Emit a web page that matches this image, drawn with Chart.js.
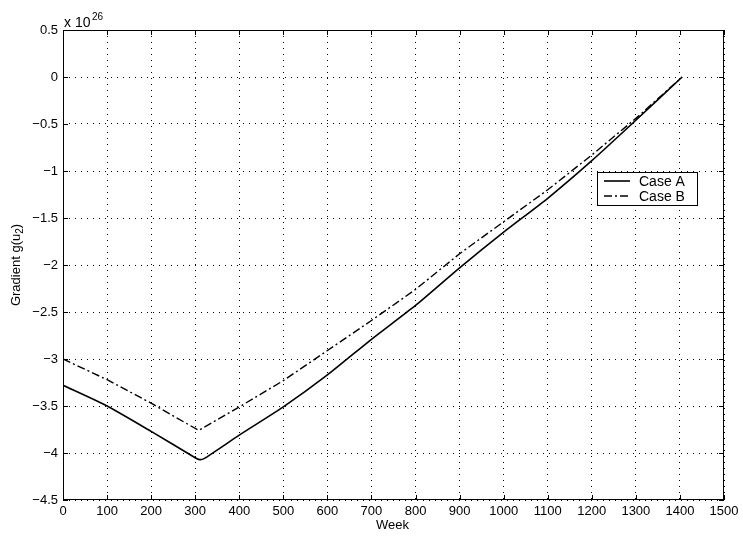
<!DOCTYPE html>
<html>
<head>
<meta charset="utf-8">
<script src="https://cdn.jsdelivr.net/npm/chart.js@4/dist/chart.umd.min.js"></script>
<style>
  html, body { margin: 0; padding: 0; background: #fff; }
  #wrap { width: 743px; height: 536px; }
</style>
</head>
<body>
<div id="wrap"><canvas id="chart" width="743" height="536"></canvas></div>
<script>
// values (y in units of 1e26)
const weeksA = [0, 100, 200, 300, 310, 320, 400, 500, 600, 700, 800, 900, 1000, 1100, 1200, 1300, 1405];
const caseA = [-3.28, -3.50, -3.77, -4.05, -4.07, -4.06, -3.81, -3.51, -3.17, -2.79, -2.43, -2.03, -1.65, -1.29, -0.89, -0.46, 0];
const weeksB = [0, 100, 200, 308, 400, 500, 600, 700, 800, 900, 1000, 1100, 1200, 1300, 1405];
const caseB = [-3.0, -3.22, -3.47, -3.76, -3.51, -3.23, -2.91, -2.59, -2.26, -1.88, -1.54, -1.20, -0.83, -0.44, 0];
const seriesNames = ['Case A', 'Case B'];

const FONT = '"Liberation Sans", Arial, Helvetica, sans-serif';
const dashB = [8, 3, 2, 3];
const gridDash = [1, 5];

const toPoints = (xs, ys) => xs.map((x, i) => ({ x: x, y: ys[i] }));

// box, inward ticks, axis titles, exponent and legend in MATLAB style
const matlabFrame = {
  id: 'matlabFrame',
  afterDraw(chart) {
    const ctx = chart.ctx;
    const { left, right, top, bottom } = chart.chartArea;
    const xs = chart.scales.x, ys = chart.scales.y;
    ctx.save();
    ctx.strokeStyle = '#000';
    ctx.lineWidth = 1;
    ctx.setLineDash([]);
    ctx.strokeRect(left + 0.5, top + 0.5, right - left - 1, bottom - top - 1);
    ctx.beginPath();
    xs.ticks.forEach(t => {
      const px = Math.round(xs.getPixelForValue(t.value)) + 0.5;
      ctx.moveTo(px, bottom); ctx.lineTo(px, bottom - 5);
      ctx.moveTo(px, top); ctx.lineTo(px, top + 5);
    });
    ys.ticks.forEach(t => {
      const py = Math.round(ys.getPixelForValue(t.value)) + 0.5;
      ctx.moveTo(left, py); ctx.lineTo(left + 5, py);
      ctx.moveTo(right, py); ctx.lineTo(right - 5, py);
    });
    ctx.stroke();

    ctx.fillStyle = '#000';
    // exponent
    ctx.font = '14px ' + FONT;
    ctx.textBaseline = 'alphabetic';
    ctx.textAlign = 'left';
    ctx.fillText('x 10', left + 1, 27);
    ctx.font = '10px ' + FONT;
    ctx.fillText('26', left + 29, 20);

    // x title
    ctx.font = '13px ' + FONT;
    ctx.textAlign = 'center';
    ctx.textBaseline = 'middle';
    ctx.fillText('Week', (left + right) / 2 - 1, 525);

    // y title with subscript
    ctx.save();
    ctx.translate(16, (top + bottom) / 2);
    ctx.rotate(-Math.PI / 2);
    ctx.textAlign = 'left';
    ctx.textBaseline = 'middle';
    const main = 'Gradient g(u', sub = '2', close = ')';
    ctx.font = '13px ' + FONT;
    const w1 = ctx.measureText(main).width;
    const w3 = ctx.measureText(close).width;
    ctx.font = '10px ' + FONT;
    const w2 = ctx.measureText(sub).width;
    let x0 = -(w1 + w2 + w3) / 2;
    ctx.font = '13px ' + FONT;
    ctx.fillText(main, x0, 0);
    ctx.font = '10px ' + FONT;
    ctx.fillText(sub, x0 + w1, 4);
    ctx.font = '13px ' + FONT;
    ctx.fillText(close, x0 + w1 + w2, 0);
    ctx.restore();

    // legend
    const bx = 597, by = 172, bw = 100, bh = 33;
    ctx.fillStyle = '#fff';
    ctx.fillRect(bx, by, bw, bh);
    ctx.strokeStyle = '#000';
    ctx.lineWidth = 1;
    ctx.strokeRect(bx + 0.5, by + 0.5, bw, bh);
    chart.data.datasets.forEach((ds, i) => {
      const ly = by + 9 + i * 15;
      ctx.beginPath();
      ctx.lineWidth = ds.borderWidth;
      ctx.setLineDash(ds.borderDash || []);
      ctx.moveTo(bx + 7, ly); ctx.lineTo(bx + 33, ly);
      ctx.stroke();
      ctx.setLineDash([]);
      ctx.fillStyle = '#000';
      ctx.font = '14px ' + FONT;
      ctx.textAlign = 'left';
      ctx.textBaseline = 'middle';
      ctx.fillText(ds.label, bx + 42, ly + 1);
    });
    ctx.restore();
  }
};

new Chart(document.getElementById('chart').getContext('2d'), {
  type: 'scatter',
  data: {
    datasets: [
      {
        label: seriesNames[0],
        data: toPoints(weeksA, caseA),
        showLine: true,
        borderColor: '#000',
        borderWidth: 1.6,
        pointRadius: 0,
        tension: 0.2,
      },
      {
        label: seriesNames[1],
        data: toPoints(weeksB, caseB),
        showLine: true,
        borderColor: '#000',
        borderWidth: 1.4,
        borderDash: dashB,
        pointRadius: 0,
        tension: 0,
      },
    ],
  },
  options: {
    responsive: false,
    animation: false,
    devicePixelRatio: 1,
    layout: { padding: { left: 0, top: 30, right: 19, bottom: 0 } },
    scales: {
      x: {
        type: 'linear',
        min: 0,
        max: 1500,
        afterFit: (scale) => { scale.height = 36; },
        ticks: {
          stepSize: 100,
          color: '#000',
          padding: 4,
          maxRotation: 0,
          font: { family: FONT, size: 13 },
          callback: (v) => String(v),
        },
        grid: {
          color: '#000',
          lineWidth: 1,
          drawTicks: false,
        },
        border: { display: false, dash: gridDash },
      },
      y: {
        type: 'linear',
        min: -4.5,
        max: 0.5,
        afterFit: (scale) => { scale.width = 63; },
        ticks: {
          stepSize: 0.5,
          color: '#000',
          padding: 5,
          font: { family: FONT, size: 13 },
          callback: (v) => (v < 0 ? '\u2212' + String(Math.abs(v)) : String(v)),
        },
        grid: {
          color: '#000',
          lineWidth: 1,
          drawTicks: false,
        },
        border: { display: false, dash: gridDash },
      },
    },
    plugins: {
      legend: { display: false },
      tooltip: { enabled: false },
    },
  },
  plugins: [matlabFrame],
});
</script>
</body>
</html>
